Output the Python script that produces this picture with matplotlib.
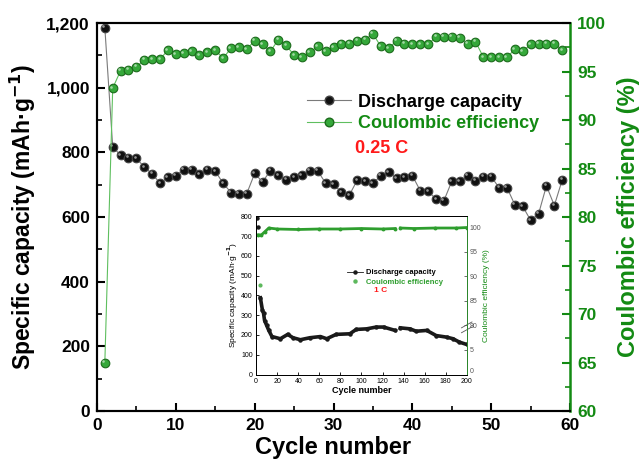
import matplotlib
matplotlib.use("Agg")
import matplotlib.pyplot as plt
import matplotlib.transforms as mtransforms
from matplotlib.lines import Line2D
from matplotlib.ticker import MultipleLocator, FuncFormatter

plt.rcParams['font.family'] = ['Liberation Sans', 'DejaVu Sans']
plt.rcParams['font.weight'] = 'bold'

# main chart: 0.25 C cycling
cycles = list(range(1, 60))
discharge = [1186, 818, 791, 784, 782, 755, 734, 705, 723, 728,
             747, 746, 733, 746, 742, 705, 676, 673, 673, 735,
             709, 744, 730, 716, 724, 730, 744, 743, 705, 702,
             677, 668, 714, 711, 705, 728, 739, 720, 723, 728,
             682, 680, 656, 651, 711, 711, 728, 713, 725, 725,
             691, 691, 638, 633, 590, 610, 697, 636, 715]
efficiency = [65.0, 93.3, 95.1, 95.2, 95.5, 96.2, 96.3, 96.3, 97.2, 96.8,
              96.9, 97.1, 96.7, 97.0, 97.2, 96.4, 97.4, 97.5, 97.3, 98.2,
              97.8, 97.1, 98.3, 97.7, 96.7, 96.5, 97.0, 97.6, 97.1, 97.5,
              97.9, 97.9, 98.2, 98.3, 98.9, 97.6, 97.4, 98.2, 97.9, 97.8,
              97.8, 97.8, 98.6, 98.6, 98.6, 98.5, 97.9, 98.1, 96.5, 96.5,
              96.5, 96.5, 97.3, 97.1, 97.8, 97.9, 97.9, 97.9, 97.2]

# inset: 1 C long cycling (read at sampled cycles)
inset_cyc_a = [4, 6, 7, 8, 10, 12, 15, 23, 30, 35, 42, 51, 61, 67, 76, 89, 95, 105, 114, 121, 132]
inset_cap_a = [388, 324, 310, 273, 248, 223, 192, 181, 203, 186, 176, 186, 192, 181, 203, 206, 228, 231, 240, 240, 223]
inset_cyc_b = [137, 146, 152, 162, 171, 181, 187, 193, 200]
inset_cap_b = [236, 231, 219, 223, 197, 189, 181, 164, 152]
inset_first_cyc = [1, 2]
inset_first_cap = [790, 748]
inset_ce_cyc_a = [2, 5, 8, 12, 20, 40, 60, 80, 100, 120, 132]
inset_ce_a = [98.4, 98.4, 99.0, 99.8, 99.6, 99.5, 99.6, 99.6, 99.7, 99.6, 99.7]
inset_ce_cyc_b = [137, 150, 170, 190, 200]
inset_ce_b = [99.8, 99.7, 99.8, 99.8, 99.9]
inset_ce_first_cyc = [4]
inset_ce_first = [88.2]

GREEN = '#138a13'
MARK_GREEN = '#35a83a'
RED = '#ff1a1a'
MS = 6.2

fig = plt.figure(figsize=(6.42, 4.63), dpi=100)
ax = fig.add_axes([0.151, 0.112, 0.737, 0.838])
ax2 = ax.twinx()


def sphere(a, x, y, face, edge, line_color, label):
    a.plot(x, y, '-', color=line_color, lw=0.8, zorder=2)
    a.plot(x, y, 'o', ms=MS, mfc=face, mec=edge, mew=0.8, zorder=3, label=label)
    # small highlight to mimic the glossy spheres
    off = mtransforms.offset_copy(a.transData, fig=fig, x=-1.1, y=1.1, units='points')
    a.plot(x, y, 'o', ms=1.9, mfc='white', mec='none', alpha=0.55, transform=off, zorder=4)


sphere(ax, cycles, discharge, '#111111', '#444444', '#7a7a7a', 'Discharge capacity')
sphere(ax2, cycles, efficiency, MARK_GREEN, '#1c6b1c', '#5fbf5f', 'Coulombic efficiency')

ax.set_xlim(0, 60)
ax.set_ylim(0, 1200)
ax2.set_ylim(60, 100)
ax.xaxis.set_major_locator(MultipleLocator(10))
ax.xaxis.set_minor_locator(MultipleLocator(5))
ax.yaxis.set_major_locator(MultipleLocator(200))
ax.yaxis.set_minor_locator(MultipleLocator(100))
ax2.yaxis.set_major_locator(MultipleLocator(5))
ax2.yaxis.set_minor_locator(MultipleLocator(2.5))
ax.yaxis.set_major_formatter(FuncFormatter(lambda v, p: f'{int(v):,}'))

ax.tick_params(axis='both', which='major', direction='in', length=6, width=1.5, labelsize=12.5, pad=5)
ax.tick_params(axis='both', which='minor', direction='in', length=3.5, width=1.2)
ax.tick_params(top=False, which='both')
ax2.tick_params(axis='y', which='major', direction='in', length=6, width=1.5, labelsize=12.5,
                colors=GREEN, pad=5)
ax2.tick_params(axis='y', which='minor', direction='in', length=3.5, width=1.2, colors=GREEN)

for s in ['left', 'bottom', 'top']:
    ax.spines[s].set_linewidth(1.5)
    ax2.spines[s].set_linewidth(1.5)
ax2.spines['right'].set_color(GREEN)
ax2.spines['right'].set_linewidth(1.8)
ax.spines['right'].set_visible(False)

ax.set_xlabel('Cycle number', fontsize=17, fontweight='bold', labelpad=2)
ax.set_ylabel('Specific capacity (mAh·g$^{\\mathbf{-1}}$)', fontsize=16.5, fontweight='bold', labelpad=6)
ax2.set_ylabel('Coulombic efficiency (%)', fontsize=17, fontweight='bold', color=GREEN, labelpad=8)

h1 = Line2D([], [], color='#7a7a7a', lw=0.8, marker='o', ms=MS, mfc='#111111', mec='#444444')
h2 = Line2D([], [], color='#5fbf5f', lw=0.8, marker='o', ms=MS, mfc=MARK_GREEN, mec='#1c6b1c')
leg = ax2.legend([h1, h2], ['Discharge capacity', 'Coulombic efficiency'], loc='upper left',
                 bbox_to_anchor=(0.41, 0.86), frameon=False, fontsize=13, handlelength=2.4,
                 handletextpad=0.4, labelspacing=0.25)
leg.get_texts()[1].set_color(GREEN)
ax2.text(0.545, 0.678, '0.25 C', transform=ax.transAxes, color=RED, fontsize=13,
         fontweight='bold', va='center', ha='left')

# inset
ins = fig.add_axes([0.399, 0.191, 0.328, 0.342])
ins2 = ins.twinx()
ins.plot(inset_cyc_a, inset_cap_a, '-o', color='#1a1a1a', lw=2.6, ms=2.2, zorder=3)
ins.plot(inset_cyc_b, inset_cap_b, '-o', color='#1a1a1a', lw=2.6, ms=2.2, zorder=3)
ins.plot(inset_first_cyc, inset_first_cap, 'o', color='#1a1a1a', ms=2.2, zorder=3)


def brk(vals):
    # broken right axis: 0-10 shown as is, 80-100 shifted down by 70
    return [v if v <= 10 else v - 70 for v in vals]


ins2.plot(inset_ce_cyc_a, brk(inset_ce_a), '-o', color='#2e9e2e', lw=2.0, ms=1.8)
ins2.plot(inset_ce_cyc_b, brk(inset_ce_b), '-o', color='#2e9e2e', lw=2.0, ms=1.8)
ins2.plot(inset_ce_first_cyc, brk(inset_ce_first), 'o', color='#5cb85c', ms=2)

ins.set_xlim(0, 200)
ins.set_ylim(0, 800)
ins2.set_ylim(0, 32.2)
ins.xaxis.set_major_locator(MultipleLocator(20))
ins.yaxis.set_major_locator(MultipleLocator(100))
ins2.set_yticks([0, 5, 10, 15, 20, 25, 30])
ins2.set_yticklabels(['0', '5', '80', '85', '90', '95', '100'])
ins.tick_params(direction='in', length=2.5, width=0.6, labelsize=5, pad=2.5)
ins.tick_params(top=False)
ins2.tick_params(direction='in', length=2.5, width=0.6, labelsize=5, pad=2, colors='#555555')
for s in ins.spines.values():
    s.set_linewidth(0.7)
for s in ins2.spines.values():
    s.set_linewidth(0.7)
ins2.spines['right'].set_color('#2e8b2e')
for lab in ins.get_xticklabels() + ins.get_yticklabels():
    lab.set_fontweight('normal')
for lab in ins2.get_yticklabels():
    lab.set_fontweight('normal')
ins2.get_yticklabels()[0].set_verticalalignment('bottom')

# break mark on the inset right axis
for dy in (-0.5, 0.5):
    ins2.plot([1.0 - 0.025, 1.0 + 0.025], [9.6 + dy - 0.6, 9.6 + dy + 0.6], color='#555555', lw=0.6,
              transform=mtransforms.blended_transform_factory(ins2.transAxes, ins2.transData),
              clip_on=False)

ins.set_xlabel('Cycle number', fontsize=6.5, fontweight='bold', labelpad=1)
ins.set_ylabel('Specific capacity (mAh·g$^{-1}$)', fontsize=6, fontweight='normal', labelpad=1)
ins2.set_ylabel('Coulombic efficiency (%)', fontsize=6, fontweight='normal', color=GREEN, labelpad=1)

ih1 = Line2D([], [], color='#1a1a1a', lw=0.6, marker='o', ms=2.2)
ih2 = Line2D([], [], color='none', marker='o', ms=2.2, mfc='#5cb85c', mec='#5cb85c')
il = ins2.legend([ih1, ih2], ['Discharge capacity', 'Coulombic efficiency'], loc='upper left',
                 bbox_to_anchor=(0.40, 0.71), frameon=False, fontsize=5.5, handlelength=2.0,
                 handletextpad=0.5, labelspacing=0.3)
il.get_texts()[1].set_color('#2e9e2e')
ins2.text(0.56, 0.533, '1 C', transform=ins.transAxes, color=RED, fontsize=6,
          fontweight='bold', va='center')

fig.savefig('out.png', dpi=100)
